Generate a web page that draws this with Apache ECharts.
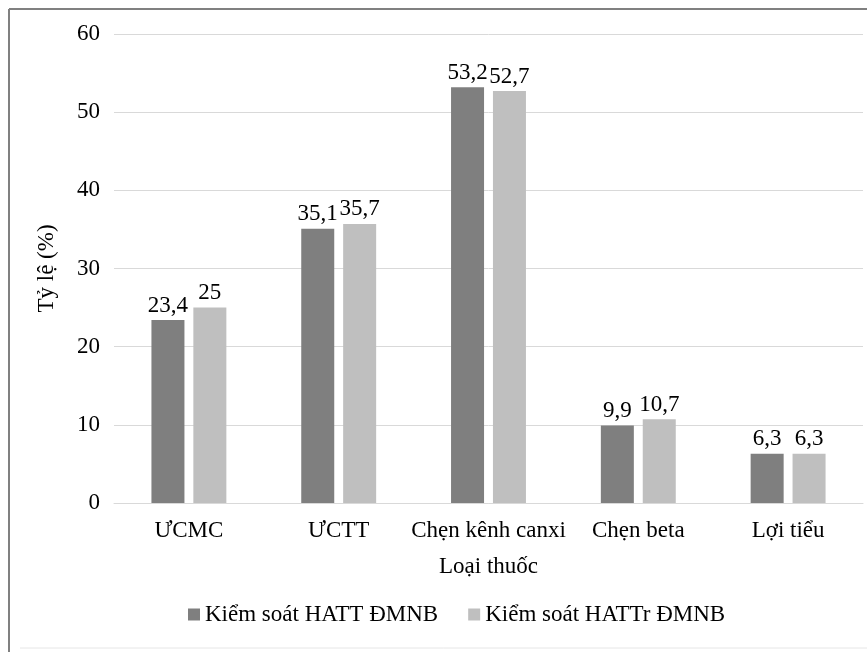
<!DOCTYPE html>
<html>
<head>
<meta charset="utf-8">
<script src="https://cdn.jsdelivr.net/npm/echarts@6/dist/echarts.min.js"></script>
<style>html,body{margin:0;padding:0;background:#fff}#c{width:867px;height:652px}</style>
</head>
<body>
<div id="c"></div>
<script>
const categories = ['ƯCMC', 'ƯCTT', 'Chẹn kênh canxi', 'Chẹn beta', 'Lợi tiểu'];
const seriesNames = ['Kiểm soát HATT ĐMNB', 'Kiểm soát HATTr ĐMNB'];
const valuesHATT = [23.4, 35.1, 53.2, 9.9, 6.3];
const valuesHATTr = [25, 35.7, 52.7, 10.7, 6.3];
const colors = ['#7f7f7f', '#bfbfbf'];

const FONT = 'Liberation Serif';
const FS = 23;
const chart = echarts.init(document.getElementById('c'), null, {renderer: 'canvas'});
const lbl = {
  show: true, position: 'top', distance: 3,
  fontFamily: FONT, fontSize: FS, color: '#000',
  formatter: p => String(p.value).replace('.', ',')
};
chart.setOption({
  animation: false,
  textStyle: {fontFamily: FONT},
  graphic: [
    {type: 'line', shape: {x1: 9, y1: 9, x2: 867, y2: 9}, style: {stroke: '#808080', lineWidth: 2}},
    {type: 'line', shape: {x1: 9, y1: 9, x2: 9, y2: 652}, style: {stroke: '#808080', lineWidth: 2}},
    {type: 'line', shape: {x1: 20, y1: 648, x2: 867, y2: 648}, style: {stroke: '#e6e6e6', lineWidth: 1}}
  ],
  grid: {left: 114, right: 4, top: 34, bottom: 149},
  legend: {
    data: seriesNames, bottom: 21, left: 183,
    icon: 'rect', itemWidth: 12, itemHeight: 12, itemGap: 30,
    textStyle: {fontFamily: FONT, fontSize: FS, color: '#000', padding: [0, 0, 0, 0]}
  },
  xAxis: {
    type: 'category', data: categories,
    name: 'Loại thuốc', nameLocation: 'middle', nameGap: 52,
    nameTextStyle: {fontFamily: FONT, fontSize: FS, color: '#000'},
    axisLine: {lineStyle: {color: '#d9d9d9', width: 1}},
    axisTick: {show: false},
    axisLabel: {fontFamily: FONT, fontSize: FS, color: '#000', margin: 16, interval: 0}
  },
  yAxis: {
    type: 'value', min: 0, max: 60, interval: 10,
    name: 'Tỷ lệ (%)', nameLocation: 'middle', nameGap: 56, nameRotate: 90,
    nameTextStyle: {fontFamily: FONT, fontSize: FS, color: '#000'},
    axisLine: {show: false}, axisTick: {show: false},
    splitLine: {lineStyle: {color: '#d9d9d9', width: 1}},
    axisLabel: {fontFamily: FONT, fontSize: FS, color: '#000', margin: 14}
  },
  series: [
    {name: seriesNames[0], type: 'bar', data: valuesHATT, barWidth: 33, barGap: '27%',
     itemStyle: {color: colors[0]}, label: lbl},
    {name: seriesNames[1], type: 'bar', data: valuesHATTr, barWidth: 33,
     itemStyle: {color: colors[1]}, label: lbl}
  ]
});
</script>
</body>
</html>
